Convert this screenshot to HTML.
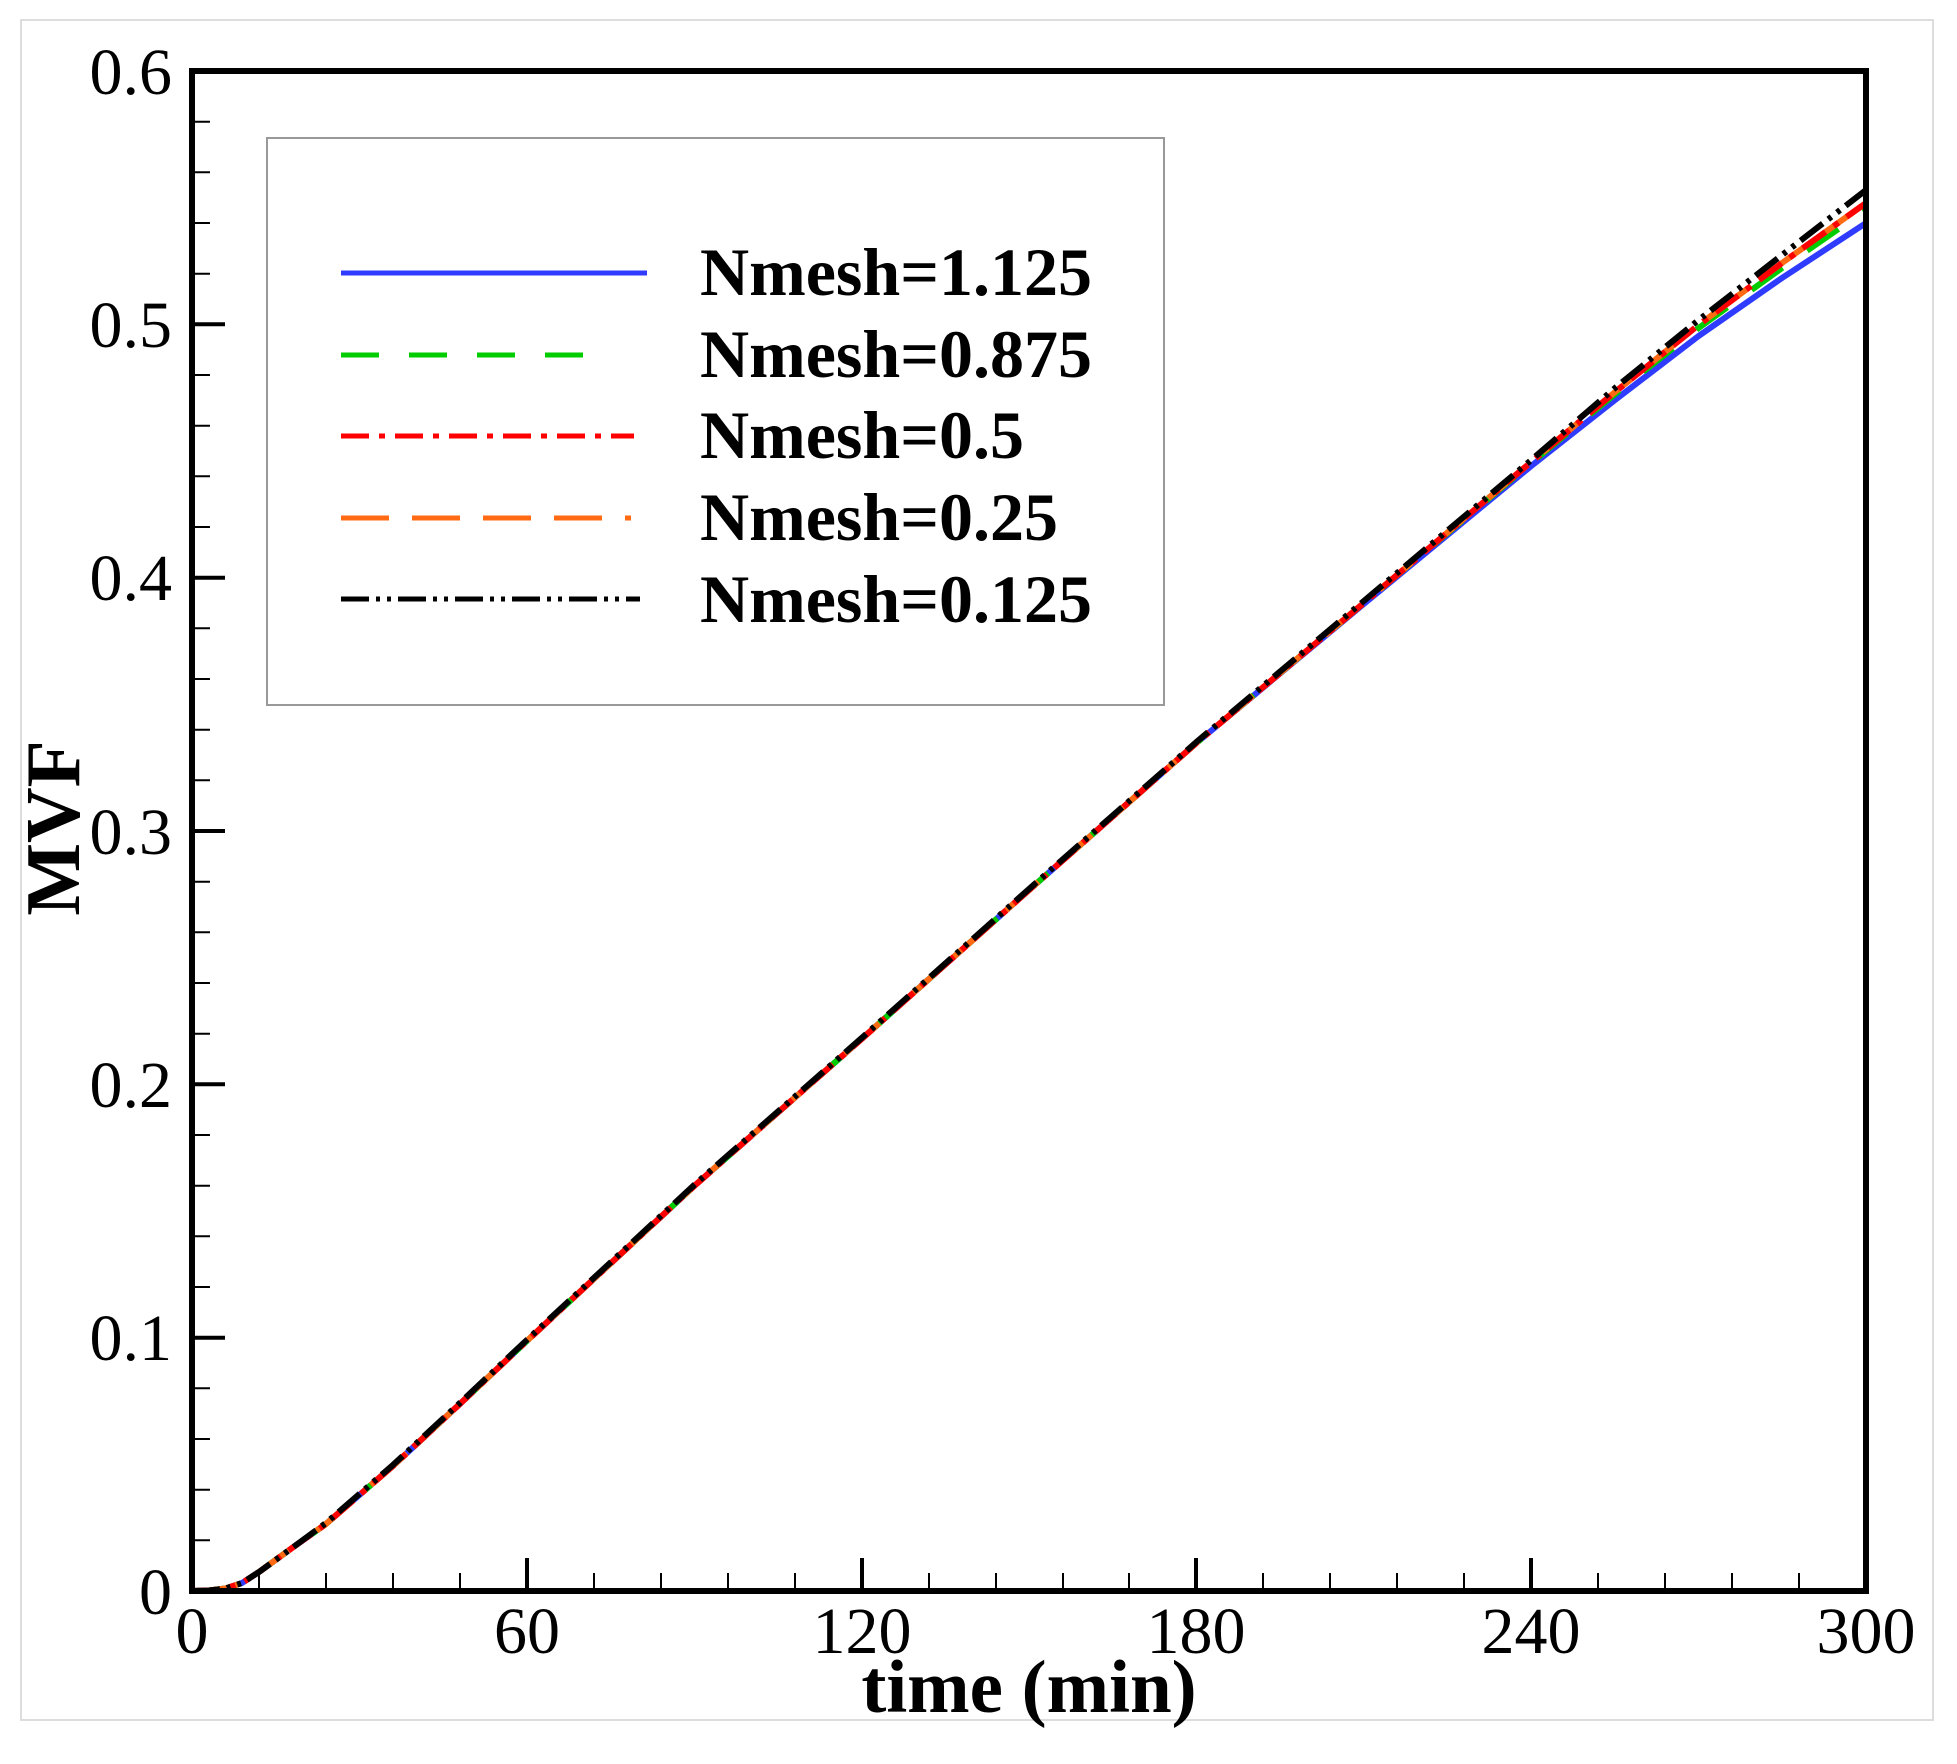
<!DOCTYPE html>
<html><head><meta charset="utf-8"><style>html,body{margin:0;padding:0;background:#fff}svg{display:block}</style></head>
<body>
<svg width="1957" height="1764" viewBox="0 0 1957 1764" xmlns="http://www.w3.org/2000/svg" font-family="Liberation Serif, serif">
<rect x="0" y="0" width="1957" height="1764" fill="#fff"/>
<rect x="21" y="20" width="1912" height="1700" fill="none" stroke="#ddd" stroke-width="2"/>
<g stroke="#000" fill="none">
<path stroke-width="2" d="M259 1591v-18M326 1591v-18M393 1591v-18M460 1591v-18M594 1591v-18M661 1591v-18M728 1591v-18M795 1591v-18M929 1591v-18M996 1591v-18M1063 1591v-18M1129 1591v-18M1263 1591v-18M1330 1591v-18M1397 1591v-18M1464 1591v-18M1598 1591v-18M1665 1591v-18M1732 1591v-18M1799 1591v-18"/>
<path stroke-width="4" d="M527 1591v-33M862 1591v-33M1196 1591v-33M1531 1591v-33"/>
<path stroke-width="2" d="M192 1540.3h18M192 1489.7h18M192 1439h18M192 1388.3h18M192 1287h18M192 1236.3h18M192 1185.7h18M192 1135h18M192 1033.7h18M192 983h18M192 932.3h18M192 881.7h18M192 780.3h18M192 729.7h18M192 679h18M192 628.3h18M192 527h18M192 476.3h18M192 425.7h18M192 375h18M192 273.7h18M192 223h18M192 172.3h18M192 121.7h18"/>
<path stroke-width="4" d="M192 1337.7h33M192 1084.3h33M192 831h33M192 577.7h33M192 324.3h33"/>
</g>
<g fill="none" stroke-width="6" stroke-linejoin="round">
<polyline stroke="#2f3cff" points="192,1591 209,1590.5 225.5,1588.5 242,1583 259,1572 292,1548 325.9,1524 392.9,1466 459.8,1404 526.8,1341 694.2,1186 861.6,1039 1029,890 1196.4,743 1363.8,604 1531.2,466 1615,400 1698.6,336 1782,278 1866,223"/>
<polyline stroke="#00cc00" stroke-dasharray="38,30" points="192,1591 209,1590.5 225.5,1588.5 242,1583 259,1572 292,1548 325.9,1524 392.9,1466 459.8,1404 526.8,1341 694.2,1186 861.6,1039 1029,890 1196.4,743 1363.8,603 1531.2,463 1615,394 1698.6,328 1782,268 1866,210"/>
<polyline stroke="#ff6a13" stroke-dasharray="48,23" points="192,1591 209,1590.5 225.5,1588.5 242,1583 259,1572 292,1548 325.9,1524 392.9,1466 459.8,1404 526.8,1341 694.2,1186 861.6,1039 1029,890 1196.4,743 1363.8,603 1531.2,462 1615,392 1698.6,325 1782,263 1866,203"/>
<polyline stroke="#ff0000" stroke-dasharray="28,10,6,10" points="192,1591 209,1590.5 225.5,1588.5 242,1583 259,1572 292,1548 325.9,1524 392.9,1466 459.8,1404 526.8,1341 694.2,1186 861.6,1039 1029,890 1196.4,743 1363.8,603 1531.2,462 1615,392 1698.6,325 1782,263 1866,203"/>
<polyline stroke="#000" stroke-dasharray="28,7,4,7,4,7" points="192,1591 209,1590.5 225.5,1588.5 242,1583 259,1572 292,1548 325.9,1523 392.9,1465 459.8,1403 526.8,1340 694.2,1185 861.6,1038 1029,889 1196.4,742 1363.8,601 1531.2,460 1615,388 1698.6,320 1782,255 1866,190"/>
</g>
<rect x="192" y="71" width="1674" height="1520" fill="none" stroke="#000" stroke-width="6"/>
<rect x="267" y="138" width="897" height="567" fill="#fff" stroke="#999" stroke-width="2"/>
<line x1="341" y1="273" x2="647" y2="273" stroke="#2f3cff" stroke-width="5"/>
<line x1="341" y1="355" x2="612" y2="355" stroke="#00cc00" stroke-width="5" stroke-dasharray="38,30"/>
<line x1="341" y1="436" x2="634" y2="436" stroke="#ff0000" stroke-width="5" stroke-dasharray="28,10,6,10"/>
<line x1="341" y1="518" x2="631" y2="518" stroke="#ff6a13" stroke-width="5" stroke-dasharray="48,23"/>
<line x1="341" y1="599" x2="640" y2="599" stroke="#000" stroke-width="5" stroke-dasharray="28,7,4,7,4,7"/>
<g font-weight="bold" font-size="68">
<text x="700" y="295">Nmesh=1.125</text>
<text x="700" y="377">Nmesh=0.875</text>
<text x="700" y="458">Nmesh=0.5</text>
<text x="700" y="540">Nmesh=0.25</text>
<text x="700" y="622">Nmesh=0.125</text>
</g>
<g font-size="66" text-anchor="end">
<text x="172" y="94">0.6</text><text x="172" y="347">0.5</text><text x="172" y="600">0.4</text>
<text x="172" y="854">0.3</text><text x="172" y="1107">0.2</text><text x="172" y="1360">0.1</text><text x="172" y="1614">0</text>
</g>
<g font-size="66" text-anchor="middle">
<text x="192" y="1653">0</text><text x="527" y="1653">60</text><text x="862" y="1653">120</text>
<text x="1196" y="1653">180</text><text x="1531" y="1653">240</text><text x="1866" y="1653">300</text>
</g>
<text x="1029" y="1712" font-size="75" font-weight="bold" text-anchor="middle">time (min)</text>
<text transform="translate(79,828) rotate(-90)" font-size="77" font-weight="bold" text-anchor="middle">MVF</text>
</svg>
</body></html>
